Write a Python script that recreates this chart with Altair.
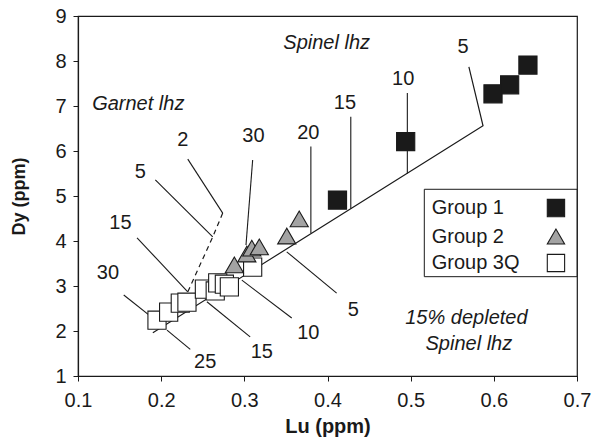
import altair as alt
import pandas as pd

FONT = "Liberation Sans"
INK = "#1a1a1a"
TXT = 20

# ---- measured samples -------------------------------------------------
g1_lu = [0.412, 0.494, 0.599, 0.619, 0.641]
g1_dy = [4.91, 6.21, 7.27, 7.47, 7.91]

g2_lu = [0.288, 0.303, 0.309, 0.318, 0.351, 0.366]
g2_dy = [3.47, 3.71, 3.84, 3.87, 4.11, 4.49]

g3_lu = [0.195, 0.209, 0.223, 0.231, 0.252, 0.265, 0.268, 0.276, 0.282, 0.310]
g3_dy = [2.24, 2.42, 2.62, 2.64, 2.93, 2.89, 3.07, 3.04, 2.98, 3.42]

# ---- melting models ---------------------------------------------------
# spinel lherzolite melting trend (ends at the 5 % tick)
spinel_lu = [0.190, 0.587, 0.570]
spinel_dy = [1.96, 6.56, 7.87]

# garnet lherzolite melting trend (dashed)
garnet_lu = [0.274, 0.262, 0.232, 0.189]
garnet_dy = [4.62, 4.09, 2.87, 2.29]

# leader lines from degree-of-melting labels: (lu0, dy0, lu1, dy1)
leaders = [
    (0.380, 6.10, 0.380, 4.17),   # 20
    (0.428, 6.76, 0.428, 4.72),   # 15
    (0.496, 7.29, 0.496, 5.50),   # 10
    (0.207, 2.02, 0.235, 1.59),   # 25
    (0.255, 2.65, 0.307, 1.87),   # 15
    (0.297, 3.13, 0.357, 2.29),   # 10
    (0.351, 3.76, 0.411, 2.84),   # 5
    (0.155, 2.80, 0.187, 2.33),   # 30
    (0.171, 4.07, 0.232, 2.87),   # 15
    (0.193, 5.36, 0.262, 4.09),   # 5
    (0.232, 5.82, 0.274, 4.62),   # 2
    (0.310, 5.80, 0.302, 3.91),   # 30
]

# melting-degree labels
tick_text = ["5", "10", "15", "20", "30", "2", "5", "15", "30", "25", "15", "10", "5"]
tick_lu = [0.563, 0.491, 0.421, 0.377, 0.311, 0.226, 0.175, 0.151, 0.136,
           0.253, 0.321, 0.377, 0.431]
tick_dy = [8.32, 7.59, 7.07, 6.41, 6.33, 6.24, 5.53, 4.40, 3.29,
           1.31, 1.53, 1.96, 2.47]

# field names (italic)
field_text = ["Spinel lhz", "Garnet lhz", "15% depleted", "Spinel lhz"]
field_lu = [0.399, 0.117, 0.567, 0.570]
field_dy = [8.39, 7.04, 2.29, 1.71]
field_align = ["center", "left", "center", "center"]

groups = ["Group 1", "Group 2", "Group 3Q"]
group_fill = ["#1a1a1a", "#a3a3a3", "#ffffff"]
group_shape = ["square", "triangle-up", "square"]

# legend placement in data units
legend_box = dict(lu0=0.5164, lu1=0.7, dy0=3.207, dy1=5.149)
legend_label_lu = 0.5253
legend_symbol_lu = 0.6747
legend_dy = [4.733, 4.10, 3.511]

# ---- tables -----------------------------------------------------------
pts = pd.concat([
    pd.DataFrame({"lu": g3_lu, "dy": g3_dy, "group": "Group 3Q"}),
    pd.DataFrame({"lu": g2_lu, "dy": g2_dy, "group": "Group 2"}),
    pd.DataFrame({"lu": g1_lu, "dy": g1_dy, "group": "Group 1"}),
], ignore_index=True)

spinel_df = pd.DataFrame({"lu": spinel_lu, "dy": spinel_dy, "k": range(len(spinel_lu))})
garnet_df = pd.DataFrame({"lu": garnet_lu, "dy": garnet_dy, "k": range(len(garnet_lu))})
leader_df = pd.DataFrame(leaders, columns=["lu", "dy", "lu2", "dy2"])
tick_df = pd.DataFrame({"lu": tick_lu, "dy": tick_dy, "t": tick_text})
field_df = pd.DataFrame({"lu": field_lu, "dy": field_dy, "t": field_text, "a": field_align})
legend_df = pd.DataFrame({"lu": legend_symbol_lu, "llu": legend_label_lu,
                          "dy": legend_dy, "group": groups})
box_df = pd.DataFrame([legend_box])

xs = alt.Scale(domain=[0.1, 0.7], nice=False, zero=False)
ys = alt.Scale(domain=[1, 9], nice=False, zero=False)

X = alt.X("lu:Q", scale=xs, title="Lu (ppm)",
          axis=alt.Axis(values=[0.1, 0.2, 0.3, 0.4, 0.5, 0.6, 0.7], format=".1f",
                        labelFlush=False))
Y = alt.Y("dy:Q", scale=ys, title="Dy (ppm)",
          axis=alt.Axis(values=list(range(1, 10)), format="d", labelFlush=False))

fill_enc = alt.Fill("group:N", scale=alt.Scale(domain=groups, range=group_fill), legend=None)
shape_enc = alt.Shape("group:N", scale=alt.Scale(domain=groups, range=group_shape), legend=None)

spinel = alt.Chart(spinel_df).mark_line(color=INK, strokeWidth=1.2).encode(
    x=X, y=Y, order="k:O")
garnet = alt.Chart(garnet_df).mark_line(color=INK, strokeWidth=1.2, strokeDash=[5, 4]).encode(
    x="lu:Q", y="dy:Q", order="k:O")
lead = alt.Chart(leader_df).mark_rule(color=INK, strokeWidth=1.1).encode(
    x="lu:Q", y="dy:Q", x2="lu2:Q", y2="dy2:Q")
ticks = alt.Chart(tick_df).mark_text(font=FONT, fontSize=TXT, color=INK).encode(
    x="lu:Q", y="dy:Q", text="t:N")
fields_c = alt.Chart(field_df[field_df.a == "center"]).mark_text(
    font=FONT, fontSize=TXT, fontStyle="italic", color=INK, align="center").encode(
    x="lu:Q", y="dy:Q", text="t:N")
fields_l = alt.Chart(field_df[field_df.a == "left"]).mark_text(
    font=FONT, fontSize=TXT, fontStyle="italic", color=INK, align="left").encode(
    x="lu:Q", y="dy:Q", text="t:N")

points = alt.Chart(pts).mark_point(filled=True, size=330, stroke=INK, strokeWidth=1.1,
                                   opacity=1).encode(
    x="lu:Q", y="dy:Q", fill=fill_enc, shape=shape_enc)

box = alt.Chart(box_df).mark_rect(fill="white", stroke=INK, strokeWidth=1).encode(
    x="lu0:Q", x2="lu1:Q", y="dy0:Q", y2="dy1:Q")
leg_text = alt.Chart(legend_df).mark_text(font=FONT, fontSize=TXT, color=INK, align="left").encode(
    x="llu:Q", y="dy:Q", text="group:N")
leg_sym = alt.Chart(legend_df).mark_point(filled=True, size=300, stroke=INK, strokeWidth=1.1,
                                         opacity=1).encode(
    x="lu:Q", y="dy:Q", fill=fill_enc, shape=shape_enc)

chart = alt.layer(
    spinel, garnet, lead, ticks, fields_c, fields_l, points, box, leg_text, leg_sym
).properties(
    width=499, height=360, autosize="none",
    padding={"left": 78, "top": 16, "right": 15, "bottom": 69},
    background="white",
).configure_view(
    stroke=INK, strokeWidth=1.2
).configure_axis(
    grid=False, domainColor=INK, domainWidth=1.2, tickColor=INK, tickSize=5,
    labelFont=FONT, labelFontSize=TXT, labelColor=INK,
    titleFont=FONT, titleFontWeight="bold", titleColor=INK,
).configure_axisX(
    labelPadding=9, titlePadding=6, titleFontSize=20
).configure_axisY(
    labelPadding=7, titlePadding=26, titleFontSize=18
)

chart.save("out.html", embed_options={"renderer": "svg", "actions": False})
